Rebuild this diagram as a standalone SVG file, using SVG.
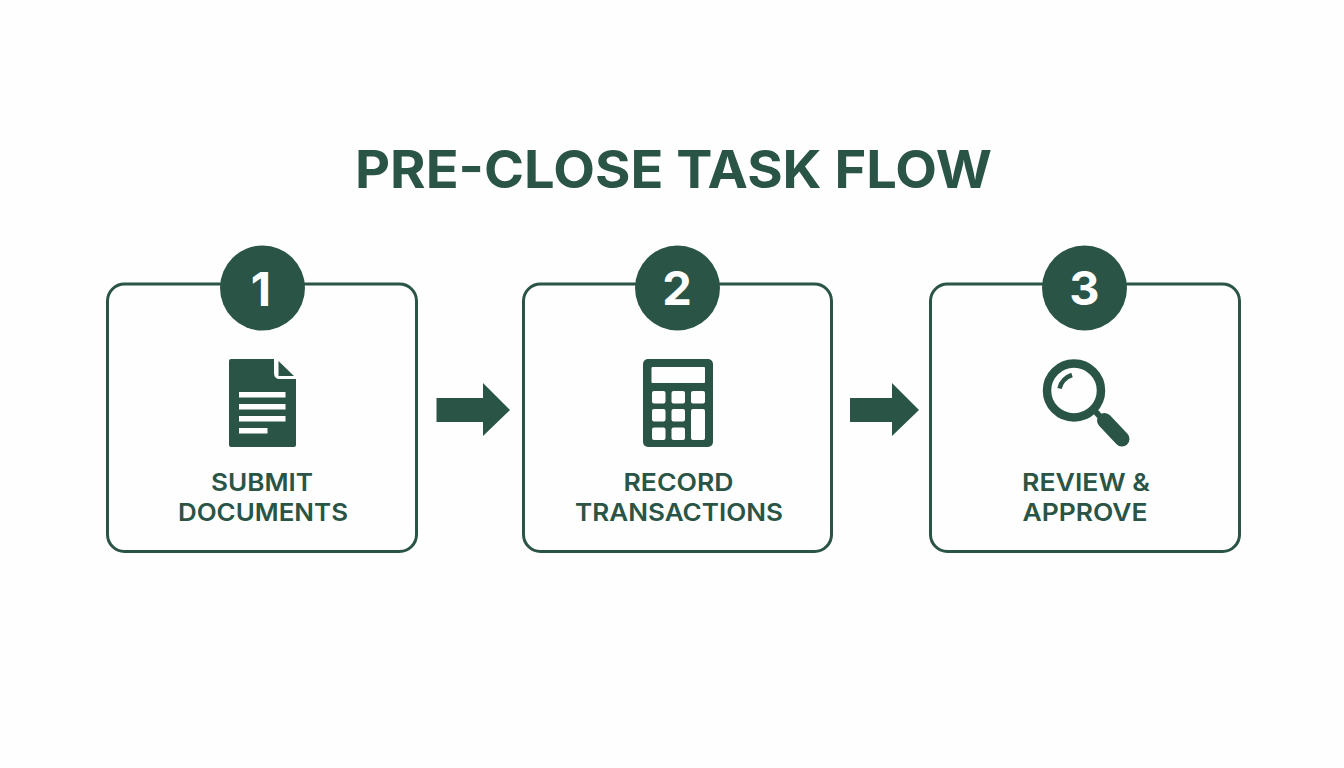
<svg xmlns="http://www.w3.org/2000/svg" width="1344" height="768" viewBox="0 0 1344 768">
<style>
.ink{fill:#2a5546}
.card{fill:#fefefe;stroke:#2a5546;stroke-width:3}
.num{font:700 47px Inter,"Liberation Sans",sans-serif;fill:#fefefe;text-anchor:middle}
.lab{font:600 24.5px Inter,"Liberation Sans",sans-serif;fill:#2a5546;text-anchor:middle}
.title{font:700 52px Inter,"Liberation Sans",sans-serif;fill:#2a5546;text-anchor:middle}
.hole{fill:#fefefe}
</style>
<rect width="1344" height="768" fill="#fefefe"/>
<text id="title" class="title" x="673.500" y="188" textLength="637" lengthAdjust="spacingAndGlyphs">PRE-CLOSE TASK FLOW</text>
<g id="connectors">
<path id="arrow-1-2" class="ink" d="M436.500 398H483V383L510 410L483 436V422H436.500Z"/>
<path id="arrow-2-3" class="ink" d="M850 398H892V383L919 410L892 436V422H850Z"/>
</g>
<g id="node-1">
<rect class="card" x="107.500" y="284" width="309" height="267.500" rx="17"/>
<circle class="ink" cx="262.500" cy="288" r="42.500"/>
<text class="num" x="261" y="306">1</text>
<path class="ink" d="M231 359H274V373Q274 379 280 379H296V445Q296 447 294 447H231Q229 447 229 445V361Q229 359 231 359Z"/>
<path class="ink" d="M278.500 361L294 376H278.500Z"/>
<g class="hole"><rect x="239" y="392" width="46.500" height="5.500"/><rect x="239" y="404" width="46.500" height="5.500"/><rect x="239" y="416" width="46.500" height="5.500"/><rect x="239" y="428" width="28.500" height="5.500"/></g>
<text class="lab" x="262" y="491" textLength="102" lengthAdjust="spacingAndGlyphs">SUBMIT</text>
<text class="lab" x="263" y="521" textLength="170" lengthAdjust="spacingAndGlyphs">DOCUMENTS</text>
</g>
<g id="node-2">
<rect class="card" x="523.500" y="284" width="308" height="267.500" rx="17"/>
<circle class="ink" cx="677.500" cy="288" r="42.500"/>
<text class="num" x="677" y="305">2</text>
<rect class="ink" x="643" y="359" width="70" height="88" rx="5"/>
<g class="hole"><rect x="651.500" y="367" width="53.500" height="16" rx="1"/>
<rect x="652" y="391" width="13.500" height="12.500" rx="2"/><rect x="671.500" y="391" width="13.500" height="12.500" rx="2"/><rect x="691" y="391" width="14" height="12.500" rx="2"/>
<rect x="652" y="409" width="13.500" height="12.500" rx="2"/><rect x="671.500" y="409" width="13.500" height="12.500" rx="2"/><rect x="691" y="409" width="14" height="31" rx="2"/>
<rect x="652" y="427.500" width="13.500" height="12.500" rx="2"/><rect x="671.500" y="427.500" width="13.500" height="12.500" rx="2"/></g>
<text class="lab" x="678.500" y="491" textLength="110" lengthAdjust="spacingAndGlyphs">RECORD</text>
<text class="lab" x="679" y="521" textLength="208" lengthAdjust="spacingAndGlyphs">TRANSACTIONS</text>
</g>
<g id="node-3">
<rect class="card" x="930.500" y="284" width="309" height="267.500" rx="17"/>
<circle class="ink" cx="1084.500" cy="288" r="42.500"/>
<text class="num" x="1084.500" y="305">3</text>
<circle cx="1074" cy="390.500" r="27" fill="none" stroke="#2a5546" stroke-width="8.500"/>
<path d="M1059.500 388.500A19 19 0 0 1 1072 375" fill="none" stroke="#2a5546" stroke-width="4.500"/>
<path d="M1094 410L1105 422" stroke="#2a5546" stroke-width="6" fill="none"/>
<path d="M1104.500 420.500L1122 439" stroke="#2a5546" stroke-width="15" stroke-linecap="round" fill="none"/>
<text class="lab" x="1086" y="491" textLength="128" lengthAdjust="spacingAndGlyphs">REVIEW &amp;</text>
<text class="lab" x="1085" y="521" textLength="125" lengthAdjust="spacingAndGlyphs">APPROVE</text>
</g>
</svg>
